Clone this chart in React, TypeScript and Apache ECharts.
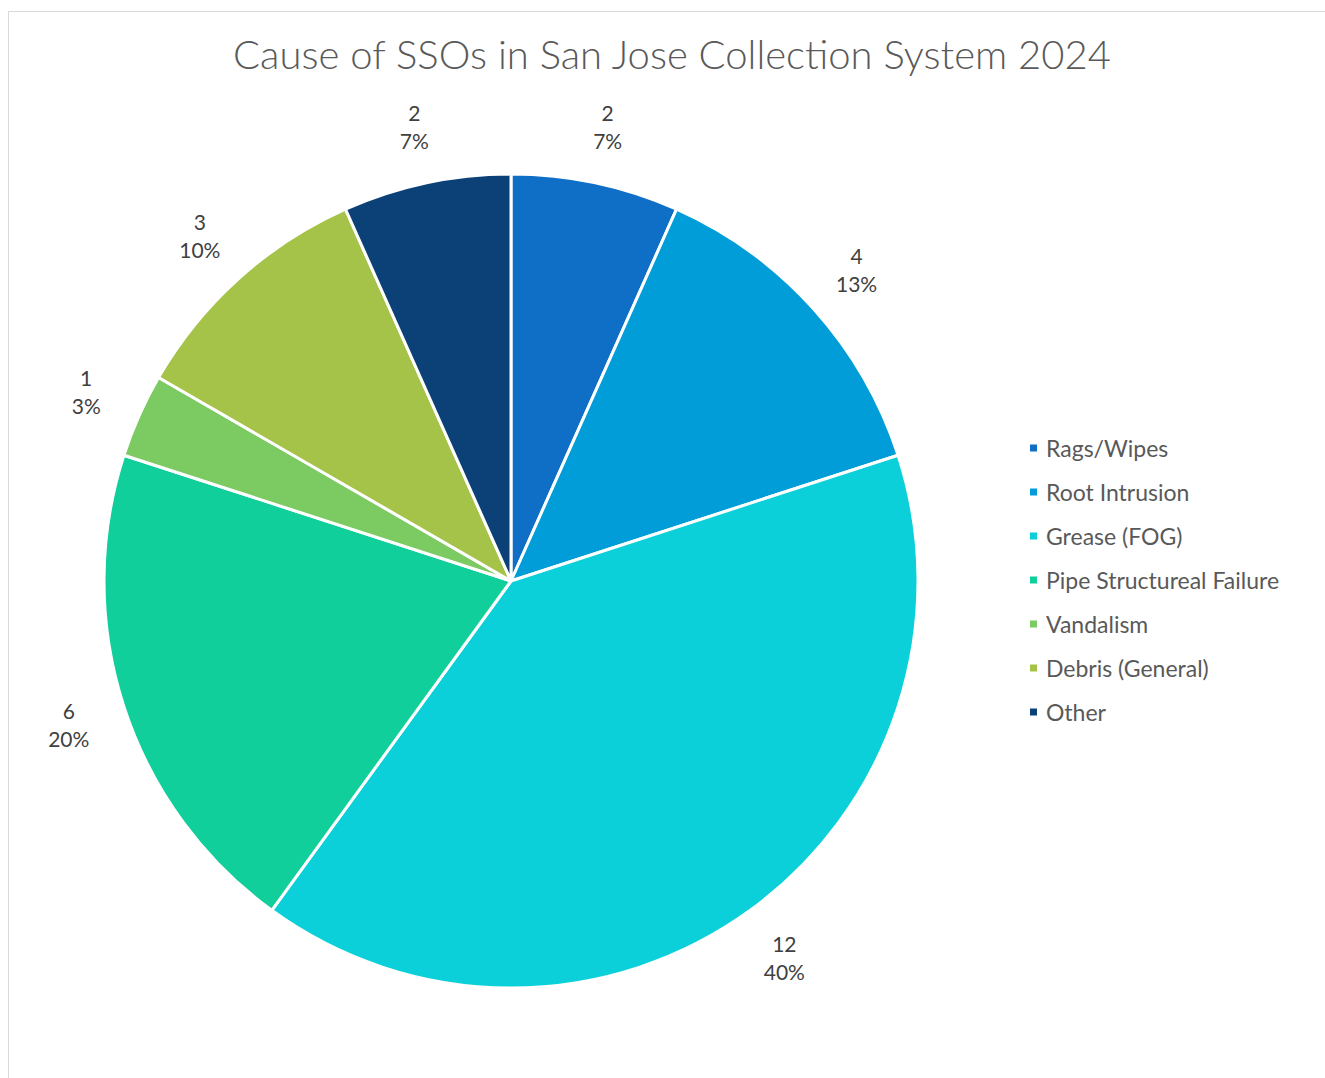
import React, { useEffect, useRef } from "react";
import * as echarts from "echarts";

const categories = [
  "Rags/Wipes",
  "Root Intrusion",
  "Grease (FOG)",
  "Pipe Structureal Failure",
  "Vandalism",
  "Debris (General)",
  "Other",
];
const counts = [2, 4, 12, 6, 1, 3, 2];
const colors = ["#0F6FC6", "#009DD9", "#0BD0D9", "#10CF9B", "#7CCA62", "#A5C249", "#0B4177"];
const titleText = "Cause of SSOs in San Jose Collection System 2024";

const FONT = "Lato, 'Open Sans', sans-serif";

export default function App() {
  const ref = useRef<HTMLDivElement>(null);
  useEffect(() => {
    if (!ref.current) return;
    const chart = echarts.init(ref.current, undefined, { renderer: "svg" });
    const data = categories.map((name, i) => ({ name, value: counts[i] }));
    chart.setOption({
      animation: false,
      color: colors,
      title: {
        text: titleText,
        left: 672,
        top: 34,
        padding: 0,
        textAlign: "center",
        textStyle: { fontFamily: FONT, fontSize: 40, fontWeight: 300, color: "#595959" },
      },
      legend: {
        orient: "vertical",
        left: 1028,
        top: 436,
        padding: 0,
        icon: "rect",
        itemWidth: 9,
        itemHeight: 9,
        itemGap: 20,
        data: categories,
        textStyle: {
          fontFamily: FONT,
          fontSize: 23,
          color: "#595959",
          lineHeight: 24,
          padding: [0, 0, 0, 3],
        },
      },
      graphic: [
        { type: "line", shape: { x1: 8.5, y1: 11.5, x2: 1325, y2: 11.5 }, style: { stroke: "#d9d9d9", lineWidth: 1 } },
        { type: "line", shape: { x1: 8.5, y1: 11.5, x2: 8.5, y2: 1078 }, style: { stroke: "#d9d9d9", lineWidth: 1 } },
      ],
      series: [
        {
          type: "pie",
          center: [511, 581],
          radius: [0, 407],
          startAngle: 90,
          clockwise: true,
          data,
          label: { show: false },
          labelLine: { show: false },
          itemStyle: { borderColor: "#ffffff", borderWidth: 3 },
          emphasis: { disabled: true },
        },
        {
          type: "pie",
          center: [511, 581],
          radius: [442, 482],
          startAngle: 90,
          clockwise: true,
          data,
          silent: true,
          legendHoverLink: false,
          itemStyle: { color: "rgba(0,0,0,0)" },
          label: {
            show: true,
            position: "inside",
            formatter: (p: any) => `${p.value}\n${Math.round(p.percent)}%`,
            fontFamily: FONT,
            fontSize: 21,
            lineHeight: 28,
            color: "#404040",
          },
          labelLine: { show: false },
          emphasis: { disabled: true },
        },
      ],
    });
    return () => chart.dispose();
  }, []);
  return (
    <div
      ref={ref}
      style={{ position: "fixed", left: 0, top: 0, width: 1325, height: 1078, background: "#ffffff" }}
    />
  );
}
